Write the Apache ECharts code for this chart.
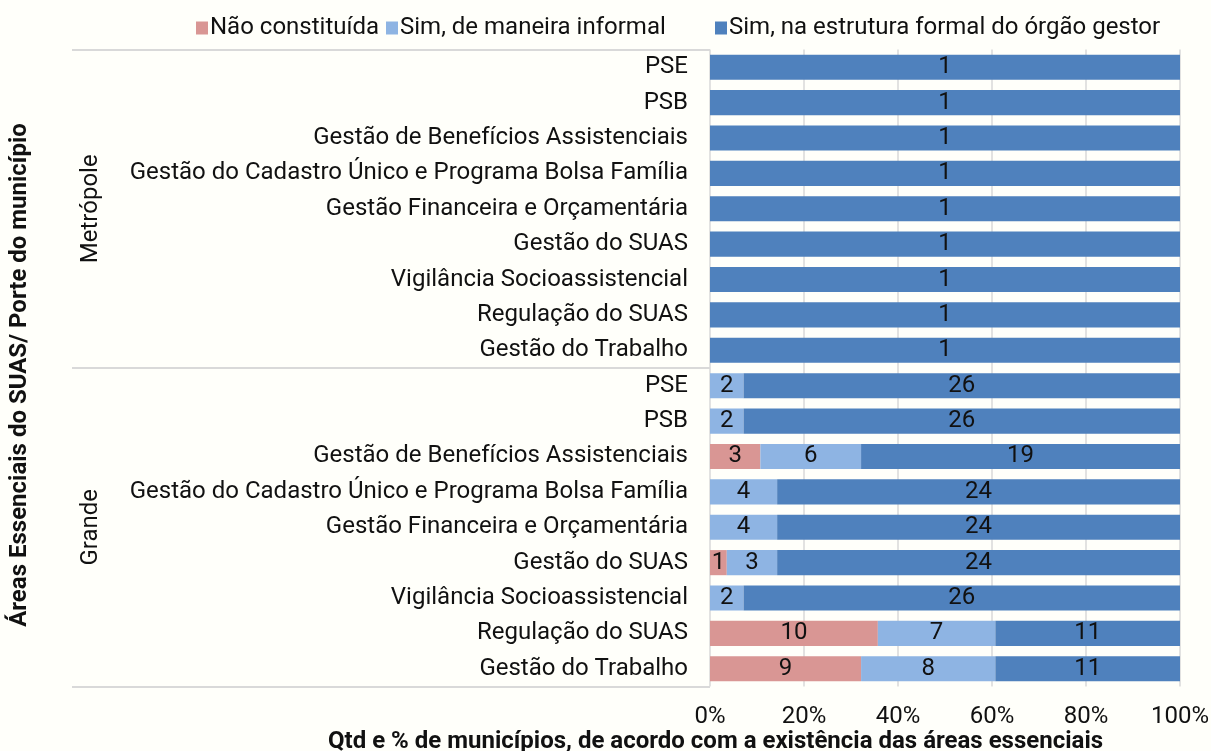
<!DOCTYPE html>
<html>
<head>
<meta charset="utf-8">
<script src="https://cdn.jsdelivr.net/npm/echarts@6/dist/echarts.min.js"></script>
<style>
    html, body { margin: 0; padding: 0; background: #fffffa; }
    #chart { width: 1211px; height: 751px; }
</style>
</head>
<body>
<div id="chart"></div>
<script>
    var areas = ['PSE', 'PSB', 'Gestão de Benefícios Assistenciais', 'Gestão do Cadastro Único e Programa Bolsa Família',
        'Gestão Financeira e Orçamentária', 'Gestão do SUAS', 'Vigilância Socioassistencial', 'Regulação do SUAS', 'Gestão do Trabalho'];
    var groups = ['Metrópole', 'Grande'];
    var seriesNames = ['Não constituída', 'Sim, de maneira informal', 'Sim, na estrutura formal do órgão gestor'];
    // contagens por linha (Metrópole primeiro, depois Grande)
    var naoConstituida = [0, 0, 0, 0, 0, 0, 0, 0, 0, 0, 0, 3, 0, 0, 1, 0, 10, 9];
    var informal = [0, 0, 0, 0, 0, 0, 0, 0, 0, 2, 2, 6, 4, 4, 3, 2, 7, 8];
    var formal = [1, 1, 1, 1, 1, 1, 1, 1, 1, 26, 26, 19, 24, 24, 24, 26, 11, 11];
    var xTicks = [0, 20, 40, 60, 80, 100];
    var colors = ['#d99694', '#8eb4e3', '#4f81bd'];

    var categories = [];
    groups.forEach(function (g) {
        areas.forEach(function (a) { categories.push(g + '|' + a); });
    });
    var counts = [naoConstituida, informal, formal];
    var totals = formal.map(function (v, i) { return v + informal[i] + naoConstituida[i]; });

    var font = 'Roboto';
    var fs = 24;
    var series = counts.map(function (arr, k) {
        return {
            name: seriesNames[k],
            type: 'bar',
            stack: 'total',
            barCategoryGap: '29%',
            itemStyle: { color: colors[k] },
            label: {
                show: true,
                color: '#111',
                fontFamily: font,
                fontSize: fs,
                formatter: function (p) { return arr[p.dataIndex] ? String(arr[p.dataIndex]) : ''; }
            },
            data: arr.map(function (v, i) { return v / totals[i] * 100; })
        };
    });

    // uma legenda por item, para reproduzir o espaçamento original
    var legendLeft = [191, 381, 710];
    var legends = seriesNames.map(function (n, k) {
        return {
            top: 11, left: legendLeft[k],
            itemWidth: 12, itemHeight: 13,
            icon: 'rect',
            textStyle: { fontFamily: font, fontSize: fs, color: '#111', padding: [0, 0, 0, -3] },
            data: [n]
        };
    });

    var chart = echarts.init(document.getElementById('chart'));
    chart.setOption({
        backgroundColor: '#fffffa',
        textStyle: { fontFamily: font },
        animation: false,
        title: {
            text: 'Qtd e % de municípios, de acordo com a existência das áreas essenciais',
            left: 328, top: 730, padding: 0,
            textStyle: { fontFamily: font, fontSize: fs, fontWeight: 'bold', color: '#111' }
        },
        legend: legends,
        grid: { left: 710, right: 31, top: 49.5, bottom: 64.5, outerBoundsMode: 'none', containLabel: false },
        xAxis: {
            type: 'value', min: 0, max: 100, interval: 20,
            axisLine: { show: false }, axisTick: { show: false },
            axisLabel: { fontSize: fs, color: '#111', margin: 18, formatter: function (v) { return xTicks.indexOf(v) >= 0 ? v + '%' : ''; } },
            splitLine: { lineStyle: { color: '#d9d9d9', width: 1.5 } }
        },
        yAxis: [{
            type: 'category', inverse: true, data: categories,
            axisLine: { show: false }, axisTick: { show: false },
            axisLabel: { fontSize: fs, color: '#111', margin: 22, formatter: function (v) { return v.split('|')[1]; } }
        }, {
            type: 'category', inverse: true, data: groups, position: 'left', offset: 638,
            axisLine: { show: false },
            axisTick: { show: true, inside: true, length: 638, lineStyle: { color: '#d9d9d9', width: 2 } },
            axisLabel: { inside: true, rotate: 90, margin: 7, fontSize: fs, color: '#111' },
            name: 'Áreas Essenciais do SUAS/ Porte do município',
            nameLocation: 'middle', nameGap: 40, nameRotate: 90,
            nameTextStyle: { fontSize: fs, fontWeight: 'bold', color: '#111', padding: [0, 14, 0, 0] }
        }],
        series: series
    });
</script>
</body>
</html>
